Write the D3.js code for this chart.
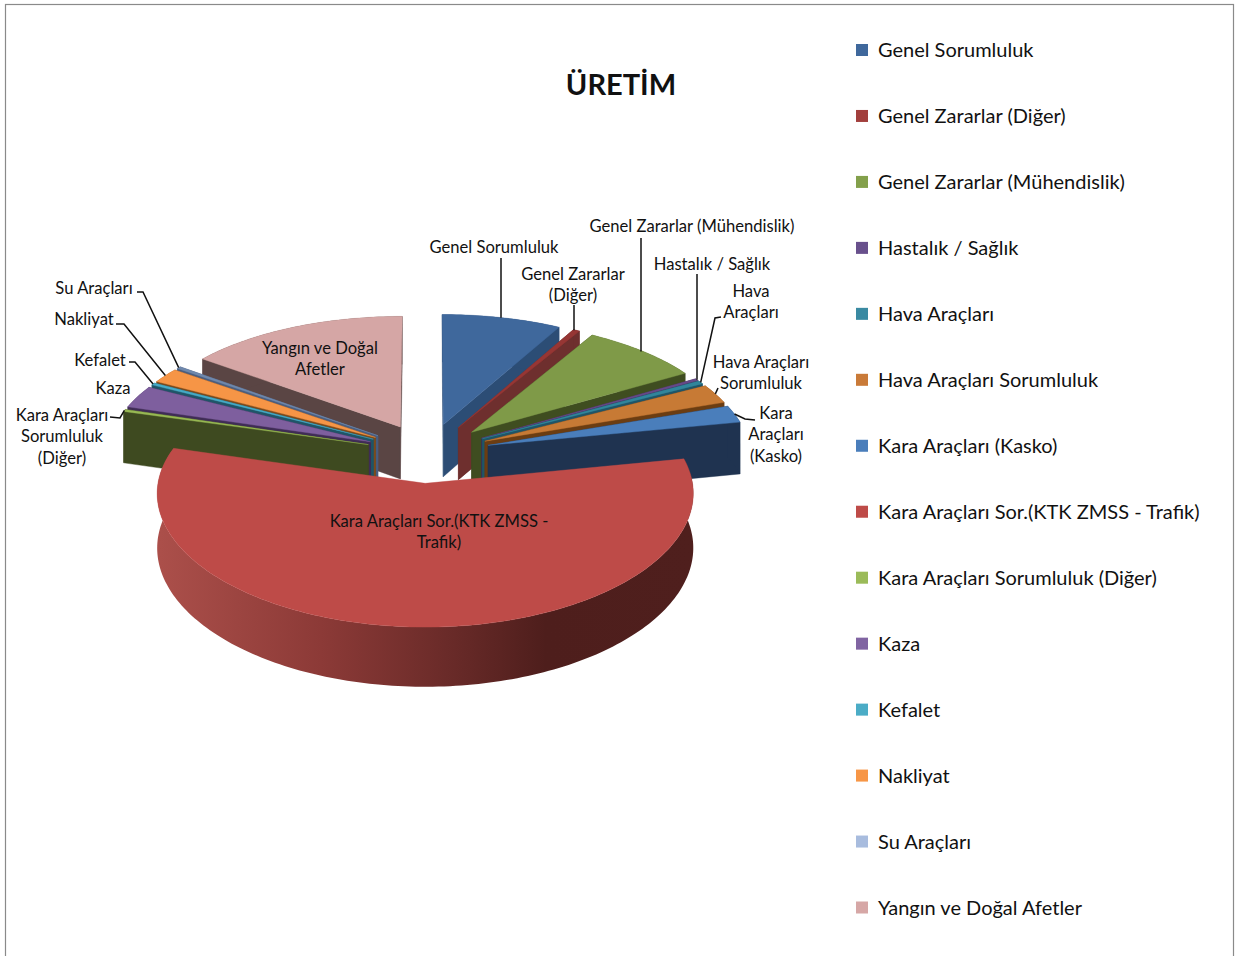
<!DOCTYPE html>
<html><head><meta charset="utf-8">
<script src="https://cdn.jsdelivr.net/npm/d3@7/dist/d3.min.js"></script>
<style>html,body{margin:0;padding:0;background:#fff}svg{display:block}text{font-family:Lato,"Open Sans",sans-serif;fill:#111}</style>
</head><body><svg id="c" width="1237" height="956"></svg>
<script>
const categories=["Genel Sorumluluk","Genel Zararlar (Diğer)","Genel Zararlar (Mühendislik)","Hastalık / Sağlık","Hava Araçları","Hava Araçları Sorumluluk","Kara Araçları (Kasko)","Kara Araçları Sor.(KTK ZMSS - Trafik)","Kara Araçları Sorumluluk (Diğer)","Kaza","Kefalet","Nakliyat","Su Araçları","Yangın ve Doğal Afetler"];
const shares=[8.0,0.44,8.08,0.28,0.42,2.5,2.22,57.5,0.28,2.92,0.28,1.94,0.28,14.86];
const topColors=["#3f689c","#963634","#7f9a48","#664a88","#31859b","#c77a35","#4a7ebb","#be4b48","#98b954","#7e5f9e","#46aac5","#f69546","#6f88ac","#d5a6a5"];
const wallColors=["#2c4d75","#6e2f2e","#3f4d20","#3f2c55","#1f5568","#6b3d12","#1f3350","#7a3330","#3e4a20","#3f2c55","#1f5568","#7a4a1c","#4a5e80","#5a4544"];
const legendColors=["#3f689c","#a23f3d","#83a04b","#68508c","#3a8aa2","#c97a38","#4a7ebb","#be4b48","#9bbb59","#8064a2","#4bacc6","#f79646","#a8bcde","#d6a7a6"];

/* label layout: lines of text, centre x, first baseline, leader elbow points */
const labelLayout=[
 {l:["Genel Sorumluluk"],x:494,y:253,p:[[501,258]]},
 {l:["Genel Zararlar","(Diğer)"],x:573,y:280,p:[[574,305]]},
 {l:["Genel Zararlar (Mühendislik)"],x:692,y:232,p:[[641,238]]},
 {l:["Hastalık / Sağlık"],x:712,y:270,p:[[697,274]]},
 {l:["Hava","Araçları"],x:751,y:297,p:[[721,317],[715,318]]},
 {l:["Hava Araçları","Sorumluluk"],x:761,y:368,p:[[718,388]]},
 {l:["Kara","Araçları","(Kasko)"],x:776,y:419,p:[[755,420],[745,419]]},
 {l:["Kara Araçları Sor.(KTK ZMSS -","Trafik)"],x:439,y:527,p:[]},
 {l:["Kara Araçları","Sorumluluk","(Diğer)"],x:62,y:421,p:[[110,417],[120,418]]},
 {l:["Kaza"],x:113,y:394,p:[]},
 {l:["Kefalet"],x:100,y:366,p:[[129,362],[135,362]]},
 {l:["Nakliyat"],x:84,y:325,p:[[116,324],[124,324]]},
 {l:["Su Araçları"],x:94,y:294,p:[[137,292],[143,292]]},
 {l:["Yangın ve Doğal","Afetler"],x:320,y:354,p:[]}
];

const svg=d3.select("#c");
svg.append("rect").attr("x",5.5).attr("y",4.5).attr("width",1228).attr("height",970).attr("fill","#fff").attr("stroke","#8a8a8a").attr("stroke-width",1.2);

/* projection of the exploded pie */
const cx=428,cy=453,sx=262.5,sy=125,perspX=0.075,perspY=0.09,explode=0.238,depth=53;
const project=(X,Z,h)=>{const kx=1/(1+perspX*Z),ky=1/(1+perspY*Z);return [cx+X*sx*kx,cy-Z*sy*ky+h*depth*ky];};
const arcs=d3.pie().sort(null).startAngle(0).endAngle(2*Math.PI)(shares);
const line=d3.line();
arcs.forEach(a=>{const m=(a.startAngle+a.endAngle)/2;a.ox=explode*Math.sin(m);a.oz=explode*Math.cos(m);});
const pt=(a,r,t,h)=>project(a.ox+r*Math.sin(t),a.oz+r*Math.cos(t),h);
const rimAngles=a=>{const n=Math.max(2,Math.ceil((a.endAngle-a.startAngle)/0.02));return d3.range(n+1).map(i=>a.startAngle+(a.endAngle-a.startAngle)*i/n);};

const defs=svg.append("defs");
const grad=defs.append("linearGradient").attr("id","karaWall").attr("gradientUnits","userSpaceOnUse").attr("x1",cx-sx*1.02).attr("x2",cx+sx*1.02).attr("y1",0).attr("y2",0);
[[0,"#ab4f4a"],[0.3,"#8c3a37"],[0.55,"#682a28"],[0.72,"#4e1e1c"],[1,"#4f1f1d"]].forEach(s=>grad.append("stop").attr("offset",s[0]).attr("stop-color",s[1]));

/* painter order: right fan, left fan, then the big slice */
const big=d3.greatest(arcs,a=>a.value);
const order=[...arcs.slice(0,big.index),...arcs.slice(big.index+1).reverse(),big];
const g=svg.append("g");
order.forEach(a=>{
  const wall=a===big?"url(#karaWall)":wallColors[a.index];
  const rim=rimAngles(a);
  [a.startAngle,a.endAngle].forEach(t=>{
    if(a===big)return;
    g.append("path").attr("fill",wall).attr("stroke",wall).attr("stroke-width",0.4)
     .attr("d",line([pt(a,0,t,0),pt(a,1,t,0),pt(a,1,t,1),pt(a,0,t,1)])+"Z");
  });
  g.append("path").attr("fill",wall)
   .attr("d",line([...rim.map(t=>pt(a,1,t,0)),...rim.slice().reverse().map(t=>pt(a,1,t,1))])+"Z");
  g.append("path").attr("fill",topColors[a.index]).attr("stroke",topColors[a.index]).attr("stroke-width",0.4)
   .attr("d",line([pt(a,0,a.startAngle,0),...rim.map(t=>pt(a,1,t,0))])+"Z");
});

/* leaders */
const leaders=svg.append("g");
arcs.forEach(a=>{
  const L=labelLayout[a.index]; if(!L.p.length)return;
  const mid=(a.startAngle+a.endAngle)/2;
  const end=pt(a,1,mid,0);
  const pts=L.p.length===1&&[0,1,2,3].includes(a.index)?[[L.p[0][0],L.p[0][1]],[L.p[0][0],end[1]]]:[...L.p,end];
  leaders.append("path").attr("fill","none").attr("stroke","#111").attr("stroke-width",1.5).attr("d",line(pts));
});

/* labels */
const labelSize=16.6,lineGap=21.3;
arcs.forEach(a=>{
  const L=labelLayout[a.index];
  svg.append("text").attr("text-anchor","middle").attr("font-size",labelSize)
   .selectAll("tspan").data(L.l).join("tspan").attr("x",L.x).attr("y",(d,i)=>L.y+i*lineGap).text(d=>d);
});

svg.append("text").attr("x",621).attr("y",95).attr("text-anchor","middle").attr("font-size",29).attr("font-weight",700).text("ÜRETİM");

const legendY=d3.scalePoint().domain(categories).range([50,907.5]);
const legend=svg.append("g").selectAll("g").data(categories).join("g").attr("transform",d=>`translate(856,${legendY(d)})`);
legend.append("rect").attr("x",0).attr("y",-6).attr("width",12).attr("height",12).attr("fill",(d,i)=>legendColors[i]);
legend.append("text").attr("x",22).attr("y",7).attr("font-size",20).text(d=>d);
</script></body></html>
